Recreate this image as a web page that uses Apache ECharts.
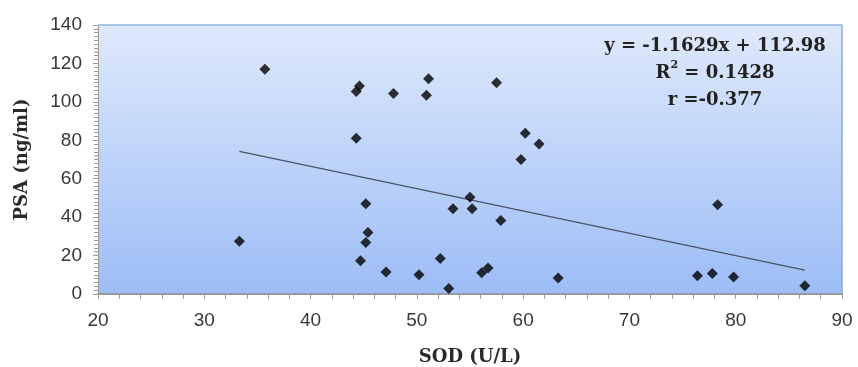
<!DOCTYPE html>
<html>
<head>
<meta charset="utf-8">
<script src="https://cdn.jsdelivr.net/npm/echarts@6/dist/echarts.min.js"></script>
<style>html,body{margin:0;padding:0;background:#fff}#c{width:858px;height:367px}</style>
</head>
<body>
<div id="c"></div>
<script>
const sodValues = [33.3, 35.7, 44.6, 44.3, 47.8, 51.1, 50.9, 57.5, 44.3, 60.2, 61.5, 59.8,
  45.2, 55.0, 53.4, 55.2, 57.9, 45.4, 45.2, 44.7, 52.2, 47.1, 50.2, 53.0, 56.1, 56.7, 63.3,
  78.3, 76.4, 77.8, 79.8, 86.5];
const psaValues = [27.5, 117, 108.3, 105.4, 104.4, 112, 103.5, 110, 81, 83.6, 78.1, 70,
  47, 50.4, 44.4, 44.4, 38.2, 32, 26.8, 17.3, 18.5, 11.4, 10, 2.8, 11, 13.5, 8.3,
  46.5, 9.5, 10.7, 8.8, 4.3];
const trendSlope = -1.1629;
const trendIntercept = 112.98;
const equationLines = ['y = -1.1629x + 112.98', 'R{sup|2} = 0.1428', 'r =-0.377'];
const xTicks = [20, 30, 40, 50, 60, 70, 80, 90];
const yTicks = [0, 20, 40, 60, 80, 100, 120, 140];

const points = sodValues.map((x, i) => [x, psaValues[i]]);
const xMin = Math.min(...sodValues), xMax = Math.max(...sodValues);
const trend = [[xMin, trendSlope * xMin + trendIntercept], [xMax, trendSlope * xMax + trendIntercept]];

const chart = echarts.init(document.getElementById('c'), null, {renderer: 'canvas'});
const labelStyle = {color: '#383838', fontSize: 19, fontFamily: 'Liberation Sans, Arial, sans-serif'};
const titleStyle = {fontFamily: 'DejaVu Serif, serif', fontWeight: 'bold', fontSize: 18, color: '#2a2a2a'};
chart.setOption({
  animation: false,
  grid: {
    left: 98, right: 16, top: 25, bottom: 73, show: true,
    borderWidth: 0, containLabel: false, outerBoundsMode: 'none',
    backgroundColor: new echarts.graphic.LinearGradient(0, 0, 0, 1, [
      {offset: 0, color: '#dfe9fb'},
      {offset: 1, color: '#9dbdf7'}
    ])
  },
  xAxis: {
    type: 'value', min: xTicks[0], max: xTicks[xTicks.length - 1], interval: 10,
    name: 'SOD (U/L)', nameLocation: 'middle', nameGap: 54,
    nameTextStyle: titleStyle,
    axisLine: {show: true, lineStyle: {color: '#9a9a9a', width: 2}},
    axisTick: {show: true, length: 5, lineStyle: {color: '#9a9a9a'}},
    minorTick: {show: true, splitNumber: 5, length: 5, lineStyle: {color: '#9a9a9a'}},
    axisLabel: Object.assign({margin: 17}, labelStyle),
    splitLine: {show: false}
  },
  yAxis: {
    type: 'value', min: yTicks[0], max: yTicks[yTicks.length - 1], interval: 20,
    name: 'PSA (ng/ml)', nameLocation: 'middle', nameGap: 67,
    nameTextStyle: titleStyle,
    axisLine: {show: true, lineStyle: {color: '#9a9a9a', width: 1}},
    axisTick: {show: true, length: 5, lineStyle: {color: '#9a9a9a'}},
    minorTick: {show: true, splitNumber: 10, length: 4, lineStyle: {color: '#9a9a9a'}},
    axisLabel: Object.assign({margin: 16}, labelStyle),
    splitLine: {show: false}
  },
  graphic: [
    {type: 'line', shape: {x1: 98, y1: 25, x2: 842, y2: 25}, style: {stroke: '#a9c3e6', lineWidth: 2}, z: 5},
    {type: 'line', shape: {x1: 842, y1: 25, x2: 842, y2: 294}, style: {stroke: '#8fa8cc', lineWidth: 1.5}, z: 5},
    {
      type: 'text', x: 715, y: 33, z: 10,
      style: {
        text: equationLines.join('\n'),
        align: 'center',
        font: 'bold 18px "DejaVu Serif", serif',
        fill: '#222',
        lineHeight: 27,
        rich: {sup: {fontSize: 11, fontWeight: 'bold', fontFamily: 'DejaVu Serif', verticalAlign: 'top', padding: [0, 0, 9, 0], fill: '#222'}}
      }
    }
  ],
  series: [
    {
      type: 'line', data: trend, symbol: 'none', silent: true,
      lineStyle: {color: '#4a5666', width: 1.3}, z: 2
    },
    {
      type: 'scatter', data: points, symbol: 'diamond', symbolSize: 11,
      itemStyle: {color: '#000'}, z: 3
    }
  ]
});
</script>
</body>
</html>
